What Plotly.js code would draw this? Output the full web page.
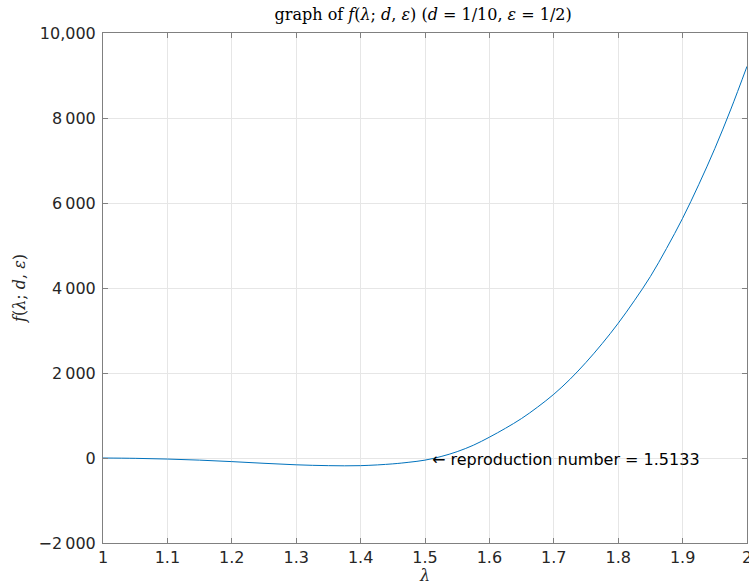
<!DOCTYPE html>
<html>
<head>
<meta charset="utf-8">
<script src="https://cdn.plot.ly/plotly-3.0.1.min.js"></script>
<style>html,body{margin:0;padding:0;background:#fff;}#chart{width:749px;height:585px;}</style>
</head>
<body>
<div id="chart"></div>
<script>
// data
const lambdaValues = [1.0, 1.05, 1.1, 1.15, 1.2, 1.25, 1.3, 1.35, 1.4, 1.45, 1.475, 1.5, 1.525, 1.55, 1.575, 1.6, 1.625, 1.65, 1.675, 1.7, 1.725, 1.75, 1.775, 1.8, 1.825, 1.85, 1.875, 1.9, 1.925, 1.95, 1.975, 2.0];
const fValues = [0, -8, -25, -50, -85, -125, -160, -180, -180, -138, -100, -50, 35, 150, 300, 490, 700, 930, 1200, 1500, 1850, 2250, 2690, 3170, 3700, 4270, 4930, 5640, 6430, 7280, 8210, 9215];
const xTickVals = [1, 1.1, 1.2, 1.3, 1.4, 1.5, 1.6, 1.7, 1.8, 1.9, 2];
const xTickText = ['1', '1.1', '1.2', '1.3', '1.4', '1.5', '1.6', '1.7', '1.8', '1.9', '2'];
const yTickVals = [-2000, 0, 2000, 4000, 6000, 8000, 10000];
const yTickText = ['\u22122\u2009000', '0', '2\u2009000', '4\u2009000', '6\u2009000', '8\u2009000', '10,000'];
const reproductionNumber = 1.5133;

const axisCommon = {
  showline: true, mirror: 'ticks', linecolor: '#808080', linewidth: 1,
  ticks: 'inside', ticklen: 5, tickcolor: '#808080', tickwidth: 1,
  showgrid: true, gridcolor: '#e6e6e6', gridwidth: 1,
  zeroline: false,
  ticklabeloverflow: 'allow',
  tickfont: {family: 'DejaVu Sans', size: 16, color: '#262626'}
};

const trace = {
  x: lambdaValues, y: fValues, type: 'scatter', mode: 'lines',
  line: {color: '#0072BD', width: 1, shape: 'spline', smoothing: 1},
  hoverinfo: 'skip'
};

const layout = {
  width: 749, height: 585,
  margin: {l: 103, r: 2, t: 33, b: 42},
  paper_bgcolor: '#ffffff', plot_bgcolor: '#ffffff',
  showlegend: false,
  title: {
    text: 'graph of <i>f</i>(<i>\u03bb</i>; <i>d</i>, <i>\u03b5</i>) (<i>d</i> = 1/10, <i>\u03b5</i> = 1/2)',
    font: {family: 'DejaVu Serif', size: 16, color: '#000'},
    x: 0.565, xanchor: 'center', y: 0.985, yanchor: 'top'
  },
  xaxis: Object.assign({}, axisCommon, {
    range: [1, 2], tickvals: xTickVals, ticktext: xTickText,
    title: {text: '<i>\u03bb</i>', font: {family: 'DejaVu Serif', size: 16, color: '#262626'}, standoff: 0}
  }),
  yaxis: Object.assign({}, axisCommon, {
    range: [-2000, 10000], tickvals: yTickVals, ticktext: yTickText,
    ticklabelstandoff: 3,
    title: {text: '<i>f</i>(<i>\u03bb</i>; <i>d</i>, <i>\u03b5</i>)', font: {family: 'DejaVu Serif', size: 16, color: '#262626'}, standoff: 8}
  }),
  annotations: [{
    x: reproductionNumber, y: 0, xref: 'x', yref: 'y',
    text: '\u2190 reproduction number = 1.5133',
    showarrow: false, xanchor: 'left', yanchor: 'middle', xshift: -4, yshift: -1,
    font: {family: 'DejaVu Sans', size: 16, color: '#000'}
  }]
};

Plotly.newPlot('chart', [trace], layout, {staticPlot: true, displayModeBar: false});
</script>
</body>
</html>
